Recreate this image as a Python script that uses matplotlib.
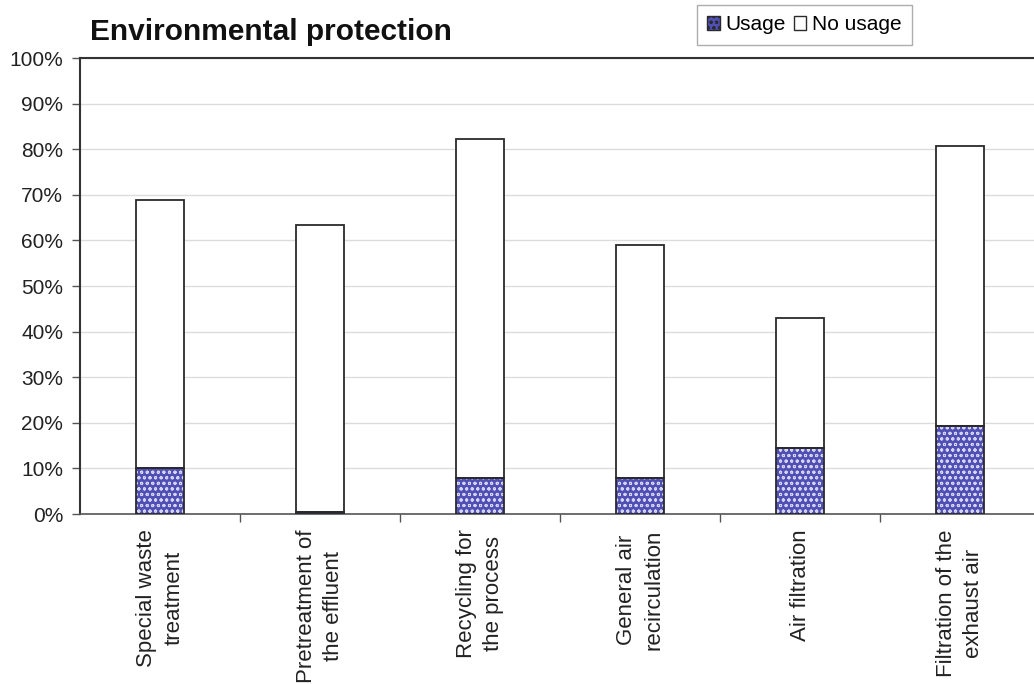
import matplotlib
matplotlib.use("Agg")
import matplotlib.pyplot as plt
import numpy as np
from matplotlib.patches import Patch

categories = ["Special waste\ntreatment", "Pretreatment of\nthe effluent", "Recycling for\nthe process",
              "General air\nrecirculation", "Air filtration", "Filtration of the\nexhaust air"]
usage = [10.0, 0.5, 7.8, 7.8, 14.5, 19.4]
total = [68.9, 63.3, 82.3, 59.0, 42.9, 80.6]
no_usage = [t - u for t, u in zip(total, usage)]
yticks = list(range(0, 101, 10))
ytick_labels = [f"{v}%" for v in yticks]

plt.rcParams['font.family'] = ['Liberation Sans', 'DejaVu Sans']
plt.rcParams['hatch.linewidth'] = 0.7

fig = plt.figure(figsize=(10.34, 6.84), dpi=100)
ax = fig.add_axes([80/1034, 1-514/684, 960/1034, 456/684])

x = np.arange(len(categories))
w = 0.3
usage_color = '#4f4fb5'
# usage fill with white speckled pattern
ax.bar(x, usage, width=w, color=usage_color, edgecolor='#d4d4f2', hatch='ooo', linewidth=0, zorder=3)
ax.bar(x, usage, width=w, fill=False, edgecolor='#2a2a2a', linewidth=1.3, zorder=4)
ax.bar(x, no_usage, width=w, bottom=usage, color='white', edgecolor='#2a2a2a', linewidth=1.3, zorder=3)

ax.set_xlim(-0.5, len(categories) - 0.5)
ax.set_ylim(0, 100)
ax.set_yticks(yticks)
ax.set_yticklabels(ytick_labels, fontsize=15, color='#222222')
ax.yaxis.grid(True, color='#dcdcdc', linewidth=1.0, zorder=0)
ax.set_axisbelow(True)

ax.set_xticks(x)
ax.set_xticklabels(categories, rotation=90, ha='center', va='top', multialignment='center',
                   fontsize=16, color='#222222', linespacing=1.4)
ax.tick_params(axis='x', length=0, pad=11)
ax.set_xticks(np.arange(0.5, len(categories) - 0.5, 1), minor=True)
ax.tick_params(axis='x', which='minor', length=6, width=1, color='#555555', direction='out')
ax.tick_params(axis='y', length=6, width=1, color='#555555', direction='out', pad=6)

for s in ['left', 'bottom', 'top']:
    ax.spines[s].set_color('#333333')
    ax.spines[s].set_linewidth(1.5)
ax.spines['right'].set_visible(False)
ax.spines['bottom'].set_color('#555555')
ax.spines['bottom'].set_linewidth(1.2)

fig.text(90/1034, 1-40/684, "Environmental protection", fontsize=21.5, fontweight='bold',
         ha='left', va='baseline', color='#111111')

handles = [Patch(facecolor=usage_color, edgecolor='#2a2a2a', hatch='ooo', label='Usage'),
           Patch(facecolor='white', edgecolor='#2a2a2a', label='No usage')]
leg = fig.legend(handles=handles, loc='upper left', bbox_to_anchor=(697/1034, 1-5/684), ncol=2,
                 fontsize=15, frameon=True, fancybox=False, edgecolor='#999999',
                 handlelength=0.6, handleheight=0.6, handletextpad=0.25, columnspacing=0.4,
                 borderpad=0.5, borderaxespad=0)
leg.get_frame().set_linewidth(1.0)

fig.savefig("out.png", dpi=100)
